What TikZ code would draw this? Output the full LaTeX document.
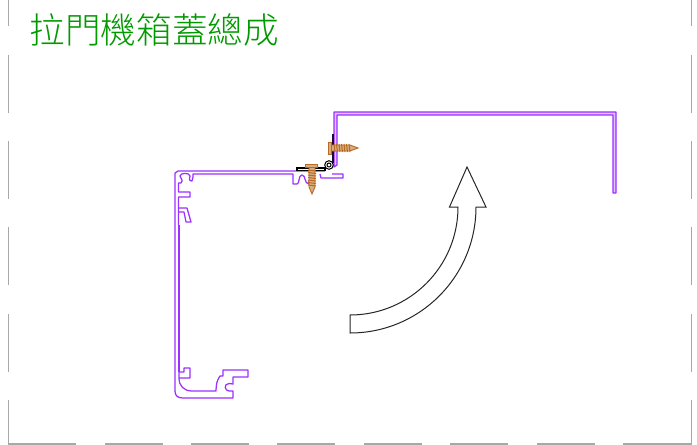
\documentclass[tikz,border=0pt]{standalone}
\usepackage{fontspec}
\newfontfamily\cjk{Noto Sans CJK TC Light}
\definecolor{prof}{HTML}{9B30FF}
\definecolor{frameg}{HTML}{A8A8A8}
\definecolor{titleg}{HTML}{009A00}
\definecolor{screwc}{HTML}{B86A20}
\tikzset{
  profile/.style={draw=prof,line width=1.25pt,line join=round},
  framedash/.style={draw=frameg,line width=1.1pt},
  arrowline/.style={draw=black!85,line width=1pt,line join=miter},
  thread/.style={draw=screwc,line width=1pt},
  screwbody/.style={draw=screwc,fill=screwc!55,line width=0.9pt},
  hingeplate/.style={draw=black,line width=1.1pt,fill=white},
}
\begin{document}
\begin{tikzpicture}[x=1pt,y=-1pt]
\useasboundingbox (0,0) rectangle (697,445);
\node[anchor=west,inner sep=0pt,text=titleg,font=\cjk\fontsize{35.6}{36}\selectfont] (title) at (29.5,30) {拉門機箱蓋總成};
% dashed frame
\foreach \a/\b in {0/26,55/113,141/199,227/285,314/372}{
  \draw[framedash] (8.5,\a) -- (8.5,\b);
  \draw[framedash] (691.5,\a) -- (691.5,\b);
}
\draw[framedash] (8.5,400) -- (8.5,444) -- (76,444);
\draw[framedash] (691.5,400) -- (691.5,444) -- (623,444);
\foreach \a/\b in {105/163,191/249,277/335,364/422,450/508,537/595}{
  \draw[framedash] (\a,444) -- (\b,444);
}
% cover profile
\draw[profile,fill=prof!30] (334,167) -- (334,112) -- (616,112) -- (616,193) -- (613,193) -- (613,115) -- (337,115) -- (337,165) -- cycle;
% frame profile
\draw[profile] (325,171) -- (178,171) -- (175,173) -- (175,391)
  .. controls (175,396) and (178,398) .. (183,398) -- (233,398) -- (233,391)
  -- (229,391) .. controls (225,391) and (223,384) .. (229,383.5) -- (233,384) -- (233,377) -- (248,377) -- (248,370) -- (223,370) -- (223,376) -- (220,376)
  .. controls (217,380) and (216,385) .. (216,391) -- (192,391)
  .. controls (184,391) and (179,386) .. (179,378) -- (190,378) -- (190,368) -- (184,368) -- (184,372) -- (179,372) -- (179,378);
\draw[profile] (179,372) -- (179,225);
\draw[profile] (178.5,225) -- (178.5,208) -- (187,208) -- (191,222) -- (186,222) -- (184,212) -- (178.5,212);
\draw[profile] (178.5,208) -- (178.5,197) -- (190,197) -- (190,192) -- (178.5,192) -- (178.5,183)
  -- (181,183) .. controls (184,180) and (180,178) .. (180,176) .. controls (180,172.5) and (190,172.5) .. (190,176)
  .. controls (190,178) and (188,181) .. (192,181) .. controls (193,179) and (193,176) .. (193,174) -- (293,174) -- (293,184)
  -- (297,184) .. controls (300,184) and (298,175) .. (302,175) .. controls (306,175) and (304,184) .. (309,184) -- (309,180);
\draw[profile] (320,174) -- (321,178) -- (343,178) -- (343,174) -- (332,174);
% arrow
\draw[arrowline,fill=white] (350,315) arc[start angle=90,end angle=0,radius=108] -- (449.5,207) -- (467,167) -- (486,207) -- (476,207) arc[start angle=0,end angle=90,radius=126] -- cycle;
% hinge
\draw[draw=black!80!prof,line width=1.6pt] (332.7,134) -- (332.7,163);
\draw[hingeplate] (297,168) rectangle (325,170.5);
\draw[black,line width=1pt,fill=white] (329,165) circle[radius=4.3];
\draw[black,line width=1pt,fill=white] (329,165) circle[radius=2];
% horizontal screw
\draw[screwbody] (328.5,142) rectangle (331.5,154);
\draw[screwbody] (331.5,145) -- (350,145) -- (358,148) -- (350,151) -- (331.5,151) -- cycle;
\foreach \x in {334,336.5,...,349}{\draw[thread] (\x,144) -- (\x+1,152);}
% vertical screw
\draw[screwbody] (305.5,164.5) rectangle (317.5,167.5);
\draw[screwbody] (309,167.5) -- (309,187) -- (312,194) -- (315,187) -- (315,167.5) -- cycle;
\foreach \y in {170,172.5,...,186}{\draw[thread] (308,\y) -- (316,\y+1);}
\end{tikzpicture}
\end{document}
